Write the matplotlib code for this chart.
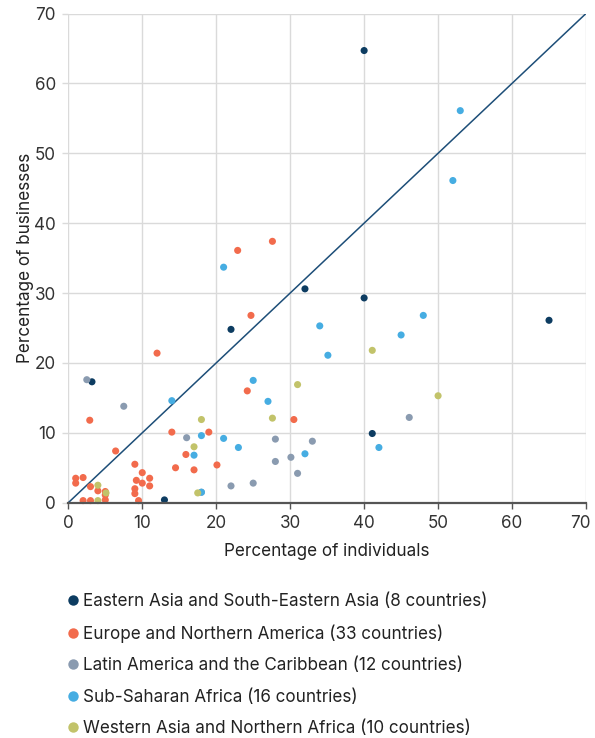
import matplotlib
matplotlib.use("Agg")
import matplotlib.pyplot as plt
import matplotlib.transforms as mtransforms
from matplotlib.lines import Line2D

plt.rcParams['font.family'] = ['Inter', 'DejaVu Sans']

regions = [
    "Eastern Asia and South-Eastern Asia (8 countries)",
    "Europe and Northern America (33 countries)",
    "Latin America and the Caribbean (12 countries)",
    "Sub-Saharan Africa (16 countries)",
    "Western Asia and Northern Africa (10 countries)",
]
colors = ['#0d3c61', '#f26b4c', '#8a9bb0', '#46ade2', '#c2c36a']

east_x = [40.0, 40.0, 65.0, 32.0, 22.0, 3.2, 13.0, 41.1]
east_y = [64.7, 29.3, 26.1, 30.6, 24.8, 17.3, 0.4, 9.9]

europe_x = [12.0, 2.9, 14.0, 6.4, 15.9, 14.5, 9.0, 10.0, 11.0, 9.2, 10.0, 11.0,
            9.0, 9.0, 9.5, 1.0, 1.0, 2.0, 3.0, 4.0, 5.0, 5.0, 2.0, 3.0, 5.0,
            24.2, 19.0, 17.0, 20.1, 22.9, 27.6, 24.7, 30.5]
europe_y = [21.4, 11.8, 10.1, 7.4, 6.9, 5.0, 5.5, 4.3, 3.5, 3.2, 2.8, 2.4,
            2.0, 1.3, 0.3, 3.5, 2.8, 3.6, 2.3, 1.7, 1.6, 1.1, 0.3, 0.3, 0.4,
            16.0, 10.1, 4.7, 5.4, 36.1, 37.4, 26.8, 11.9]

latam_x = [2.5, 7.5, 16.0, 28.0, 22.0, 25.0, 28.0, 30.1, 33.0, 31.0, 46.1, 18.0]
latam_y = [17.6, 13.8, 9.3, 9.1, 2.4, 2.8, 5.9, 6.5, 8.8, 4.2, 12.2, 1.5]

ssa_x = [53.0, 52.0, 48.0, 45.0, 21.0, 34.0, 35.1, 25.0, 27.0, 14.0, 18.0, 21.0,
         23.0, 17.0, 18.0, 32.0, 42.0]
ssa_y = [56.1, 46.1, 26.8, 24.0, 33.7, 25.3, 21.1, 17.5, 14.5, 14.6, 9.6, 9.2,
         7.9, 6.8, 1.5, 7.0, 7.9]

wana_x = [4.0, 5.1, 4.0, 18.0, 27.6, 17.0, 17.5, 31.0, 41.1, 50.0]
wana_y = [2.5, 1.4, 0.3, 11.9, 12.1, 8.0, 1.4, 16.9, 21.8, 15.3]

series = [(east_x, east_y), (europe_x, europe_y), (latam_x, latam_y),
          (ssa_x, ssa_y), (wana_x, wana_y)]

ticks = [0, 10, 20, 30, 40, 50, 60, 70]
fs = 12.3

fig = plt.figure(figsize=(5.95, 7.38), dpi=100)
ax = fig.add_axes([68.3/595, 1-502.7/738, (586-68.3)/595, (502.7-13.5)/738])

ax.set_xlim(0, 70)
ax.set_ylim(0, 70)
ax.set_xticks(ticks)
ax.set_yticks(ticks)
ax.grid(True, color='#dadada', linewidth=1.0, zorder=0)
ax.set_axisbelow(True)
for s in ['top', 'right', 'left']:
    ax.spines[s].set_visible(False)
ax.spines['bottom'].set_color('#555555')
ax.spines['bottom'].set_linewidth(1.6)
ax.spines['bottom'].set_zorder(5)
ax.tick_params(axis='x', colors='#555555', length=4, width=1.0, labelsize=fs,
               labelcolor='#333333', pad=5)
ax.tick_params(axis='y', colors='#dadada', length=4, width=1.0, labelsize=fs,
               labelcolor='#333333', pad=5)

ax.plot([0, 70], [0, 70], color='#1d4e78', linewidth=1.1, zorder=2)

for (xs, ys), c in zip(series, colors):
    ax.scatter(xs, ys, s=26, color=c, edgecolors='none', zorder=3, clip_on=False)

ax.set_xlabel("Percentage of individuals", fontsize=fs, color='#222222', labelpad=8)
ax.set_ylabel("Percentage of businesses", fontsize=fs, color='#222222', labelpad=0)

# shift the last x tick label slightly left so it stays inside the figure
last = ax.get_xticklabels()[-1]
last.set_transform(last.get_transform() + mtransforms.ScaledTranslation(-6/100, 0, fig.dpi_scale_trans))

handles = [Line2D([0], [0], marker='o', linestyle='none', markersize=7.5,
                  markerfacecolor=c, markeredgecolor='none') for c in colors]
fig.legend(handles, regions, loc='upper left', bbox_to_anchor=(0.097, 1-586/738),
           frameon=False, fontsize=fs, handletextpad=0.1, labelspacing=0.85,
           handlelength=1.0, labelcolor='#222222', borderaxespad=0)

fig.savefig("out.png", dpi=100)
